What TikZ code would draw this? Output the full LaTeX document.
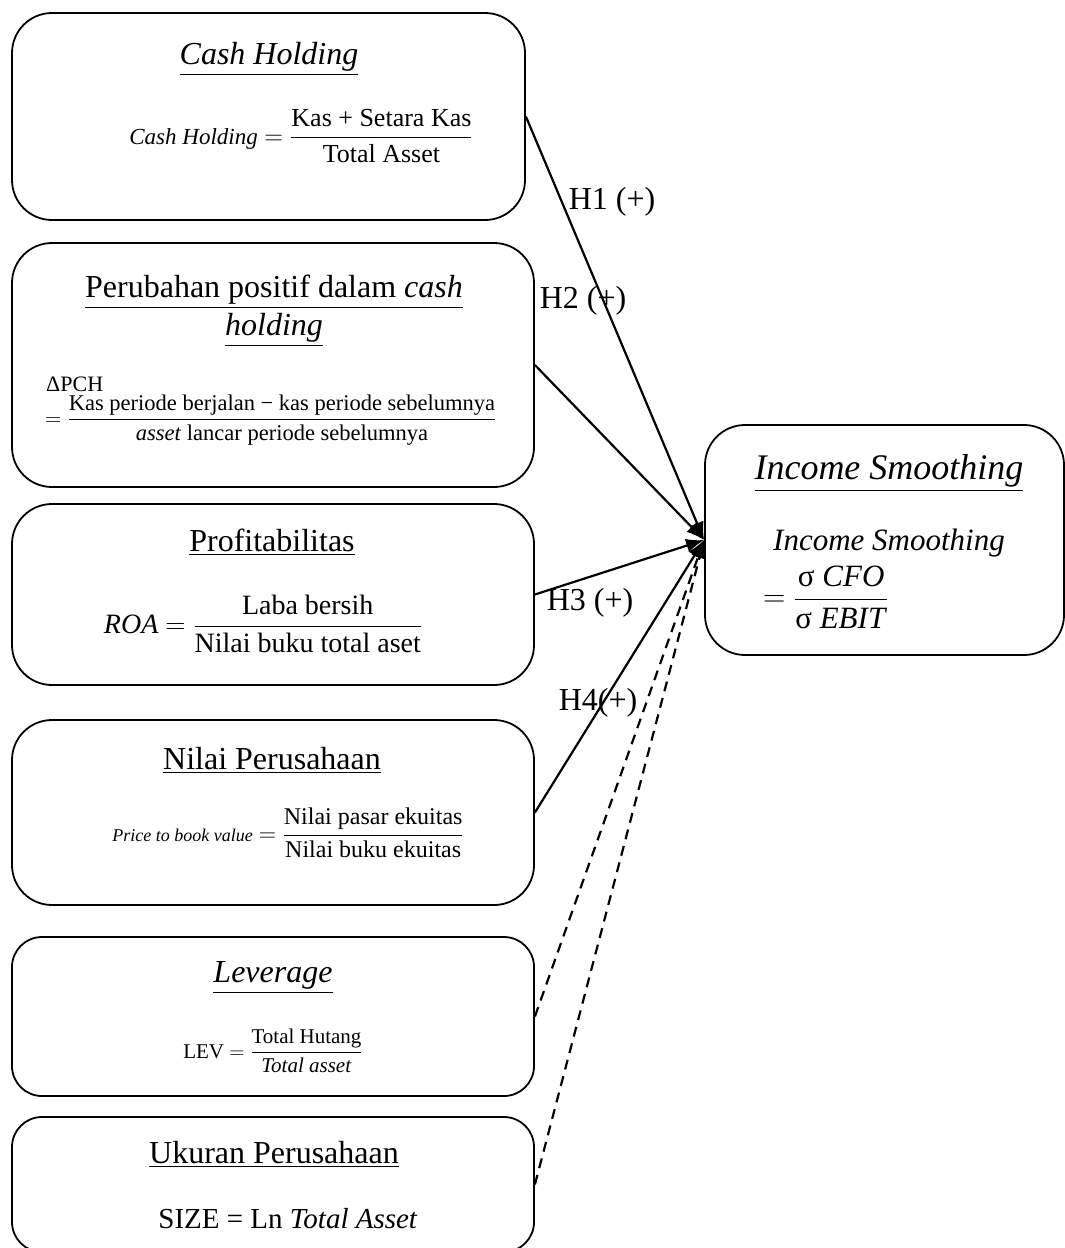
\documentclass[tikz,border=0pt]{standalone}
\usepackage{fix-cm}
\usepackage{amsmath}
\usepackage{fontspec}
\setmainfont{Liberation Serif}
\usetikzlibrary{arrows.meta, positioning}

\begin{document}
\begin{tikzpicture}[x=1pt,y=-1pt,
  box/.style={draw,line width=1.8pt,rounded corners=40pt,minimum width=522pt,inner sep=0pt},
  ttl/.style={font=\fontsize{32}{38}\selectfont,align=center,inner sep=0pt},
  lbl/.style={font=\fontsize{32}{38}\selectfont,inner sep=0pt},
  rel/.style={line width=2.2pt,-{Latex[length=18pt,width=14pt]}},
  ctrl/.style={rel,dash pattern=on 10pt off 7pt}]
\useasboundingbox (0,0) rectangle (1065,1248);
\node[box,minimum width=513pt,minimum height=207pt] (cash) at (268.5,116.5) {};
\node[box,minimum height=244pt] (pch) at (273,365) {};
\node[box,minimum height=181pt] (prof) at (273,594.5) {};
\node[box,minimum height=185pt] (nilai) at (273,812.5) {};
\node[box,rounded corners=30pt,minimum height=159pt] (lev) at (273,1016.5) {};
\node[box,rounded corners=30pt,minimum height=135pt] (ukr) at (273,1184.5) {};
\node[box,minimum width=359pt,minimum height=230pt] (inc) at (884.5,540) {};
\node[ttl,anchor=base] (cashT) at (269,64) {\underline{\textit{Cash Holding}}};
\node[inner sep=0pt,font=\fontsize{26}{30}\selectfont] (cashF) at (301,136)
  {{\fontsize{23}{26}\selectfont\textit{Cash Holding}} $=\dfrac{\text{Kas + Setara Kas}}{\text{Total Asset}}$};
\node[ttl] (pchT) at (274,311) {\underline{Perubahan positif dalam \textit{cash}}\\ \underline{\textit{holding}}};
\node[inner sep=0pt,anchor=west,font=\fontsize{22}{26}\selectfont] (pchD) at (46,384) {ΔPCH};
\node[inner sep=0pt,anchor=west,font=\fontsize{22.5}{26}\selectfont] (pchF) at (45,420)
  {$=\dfrac{\text{Kas periode berjalan − kas periode sebelumnya}}{\text{\textit{asset} lancar periode sebelumnya}}$};
\node[ttl,anchor=base] (profT) at (272,551) {\underline{Profitabilitas}};
\node[inner sep=0pt,font=\fontsize{28}{32}\selectfont] (profF) at (263,624)
  {\textit{ROA} $=\dfrac{\text{Laba bersih}}{\text{Nilai buku total aset}}$};
\node[ttl,anchor=base] (nilaiT) at (272,769) {\underline{Nilai Perusahaan}};
\node[inner sep=0pt,font=\fontsize{24}{28}\selectfont] (nilaiF) at (288,833)
  {{\fontsize{18}{22}\selectfont\textit{Price to book value}} $=\dfrac{\text{Nilai pasar ekuitas}}{\text{Nilai buku ekuitas}}$};
\node[ttl,anchor=base] (levT) at (273,982) {\underline{\textit{Leverage}}};
\node[inner sep=0pt,font=\fontsize{21}{25}\selectfont] (levF) at (273,1051)
  {LEV $=\dfrac{\text{Total Hutang}}{\text{\textit{Total asset}}}$};
\node[ttl,anchor=base] (ukrT) at (274,1163) {\underline{Ukuran Perusahaan}};
\node[inner sep=0pt,anchor=base,font=\fontsize{29}{34}\selectfont] (ukrF) at (288,1228) {SIZE = Ln \textit{Total Asset}};
\node[inner sep=0pt,anchor=base,font=\fontsize{36}{42}\selectfont] (incT) at (889,479) {\underline{\textit{Income Smoothing}}};
\node[inner sep=0pt,anchor=base,font=\fontsize{31}{36}\selectfont] (incF) at (889,550) {\textit{Income Smoothing}};
\node[inner sep=0pt,anchor=west,font=\fontsize{31}{36}\selectfont] (incR) at (763,597)
  {$=\dfrac{\text{σ \textit{CFO}}}{\text{σ \textit{EBIT}}}$};
\foreach \n in {cash,pch,prof,nilai}
  \draw[rel] (\n.east) -- (inc.west);
\foreach \n in {lev,ukr}
  \draw[ctrl] (\n.east) -- (inc.west);
\node[lbl] (h1) at (612,202) {H1 (+)};
\node[lbl] (h2) at (583,301) {H2 (+)};
\node[lbl] (h3) at (590,603) {H3 (+)};
\node[lbl] (h4) at (598,703) {H4(+)};
\end{tikzpicture}
\end{document}
